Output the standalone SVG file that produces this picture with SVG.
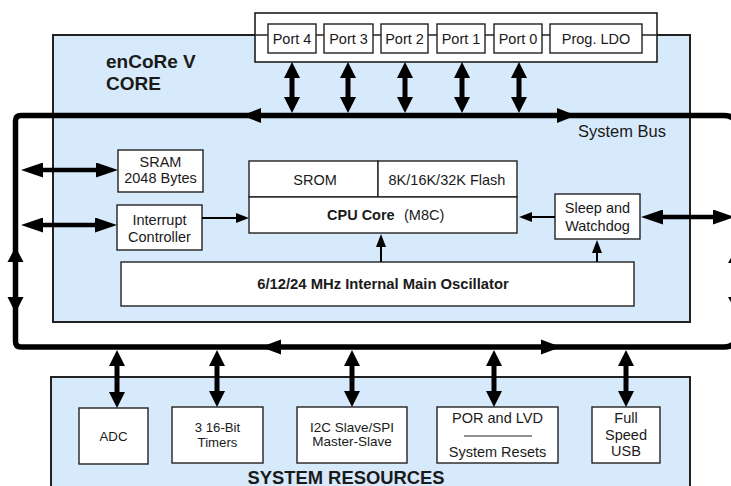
<svg xmlns="http://www.w3.org/2000/svg" width="731" height="486" viewBox="0 0 731 486">
<defs>
<style>
text{font-family:"Liberation Sans",Arial,sans-serif;fill:#1a1a1a}
.c{text-anchor:middle}
.t14{font-size:14.5px}
.t13{font-size:13.2px}
.b{font-weight:bold}
.box{fill:#fff;stroke:#222;stroke-width:1.4}
.area{fill:#d7eafc;stroke:#222;stroke-width:2}
.bus{fill:none;stroke:#000;stroke-width:5.5;stroke-linejoin:round}
.thick{stroke:#000;stroke-width:5}
.mid{stroke:#000;stroke-width:4.5}
.thin{stroke:#000;stroke-width:2}
</style>
<marker id="hv" markerUnits="userSpaceOnUse" markerWidth="16" markerHeight="16" viewBox="0 0 16 16" refX="1" refY="8" orient="auto-start-reverse"><path d="M0,0 L16,8 L0,16 z" fill="#000"/></marker>
<marker id="hh" markerUnits="userSpaceOnUse" markerWidth="22" markerHeight="15" viewBox="0 0 22 15" refX="1" refY="7.5" orient="auto-start-reverse"><path d="M0,0 L22,7.5 L0,15 z" fill="#000"/></marker>
<marker id="hs" markerUnits="userSpaceOnUse" markerWidth="13" markerHeight="10" viewBox="0 0 13 10" refX="1" refY="5" orient="auto"><path d="M0,0 L13,5 L0,10 z" fill="#000"/></marker>
</defs>
<rect width="731" height="486" fill="#fff"/>

<g id="core-area">
<rect class="area" x="53" y="35" width="637" height="287"/>
<text class="b" x="106" y="68" font-size="19">enCoRe V</text>
<text class="b" x="106" y="90" font-size="19">CORE</text>
</g>

<g id="sysres-area">
<rect class="area" x="51" y="377" width="639" height="120"/>
<text class="b c" x="346" y="483.5" font-size="18.4">SYSTEM RESOURCES</text>
</g>

<g id="ports">
<rect x="255" y="13" width="402" height="49" fill="#fff" stroke="#111" stroke-width="1.5"/>
<line x1="255" y1="35" x2="657" y2="35" stroke="#222" stroke-width="1.4"/>
<g id="port4"><rect class="box" x="268" y="24" width="48" height="29"/><text class="c t14" x="292" y="44">Port 4</text></g>
<g id="port3"><rect class="box" x="324" y="24" width="49" height="29"/><text class="c t14" x="348.5" y="44">Port 3</text></g>
<g id="port2"><rect class="box" x="381" y="24" width="47" height="29"/><text class="c t14" x="404.5" y="44">Port 2</text></g>
<g id="port1"><rect class="box" x="437" y="24" width="48" height="29"/><text class="c t14" x="461" y="44">Port 1</text></g>
<g id="port0"><rect class="box" x="494" y="24" width="48" height="29"/><text class="c t14" x="518" y="44">Port 0</text></g>
<g id="ldo"><rect class="box" x="550" y="24" width="92" height="29"/><text class="c t14" x="596" y="44">Prog. LDO</text></g>
</g>

<g id="sram"><rect class="box" x="118" y="150" width="85" height="42"/><text class="c t14" x="160.5" y="167">SRAM</text><text class="c t14" x="160.5" y="183">2048 Bytes</text></g>
<g id="interrupt"><rect class="box" x="117" y="205" width="85" height="45"/><text class="c t14" x="159.5" y="225">Interrupt</text><text class="c t14" x="159.5" y="242">Controller</text></g>
<g id="srom"><rect class="box" x="249" y="161" width="129" height="36"/><text class="c t14" x="315" y="185">SROM</text></g>
<g id="flash"><rect class="box" x="378" y="161" width="139" height="36"/><text class="c t14" x="447" y="185">8K/16K/32K Flash</text></g>
<g id="cpu"><rect class="box" x="249" y="197" width="268" height="36"/><text class="t14 b" x="327" y="220">CPU Core</text><text class="t14" x="404" y="220">(M8C)</text></g>
<g id="sleep"><rect class="box" x="555" y="194" width="85" height="45"/><text class="c t14" x="597.5" y="213">Sleep and</text><text class="c t14" x="597.5" y="231">Watchdog</text></g>
<g id="osc"><rect class="box" x="121" y="262" width="513" height="44"/><text class="c b" x="383" y="289" font-size="14.8">6/12/24 MHz Internal Main Oscillator</text></g>

<g id="adc"><rect class="box" x="79" y="408" width="69" height="56"/><text class="c t13" x="113.5" y="441">ADC</text></g>
<g id="timers"><rect class="box" x="172" y="407" width="91" height="56"/><text class="c t13" x="217.5" y="432">3 16-Bit</text><text class="c t13" x="217.5" y="447">Timers</text></g>
<g id="i2c"><rect class="box" x="297" y="407" width="110" height="56"/><text class="c" x="352" y="432" font-size="13.5">I2C Slave/SPI</text><text class="c" x="352" y="446" font-size="13.5">Master-Slave</text></g>
<g id="por"><rect class="box" x="437" y="407" width="121" height="56"/><text class="c t14" x="497.5" y="423">POR and LVD</text><line x1="464" y1="436" x2="532" y2="436" stroke="#222" stroke-width="1.2"/><text class="c t14" x="497.5" y="457">System Resets</text></g>
<g id="usb"><rect class="box" x="592" y="407" width="68" height="56"/><text class="c t14" x="626" y="423">Full</text><text class="c t14" x="626" y="440">Speed</text><text class="c t14" x="626" y="456">USB</text></g>

<g id="connectors">
<path class="bus" d="M21,115.5 H724 Q737,115.5 737,128.5 V334 Q737,347 724,347 H21 Q15.5,347 15.5,341.5 V121 Q15.5,115.5 21,115.5 Z"/>
<text x="578" y="137" font-size="16.5">System Bus</text>
<polygon points="242,115.5 261,108 261,123" fill="#000"/>
<polygon points="576,115.5 557,108 557,123" fill="#000"/>
<polygon points="261,347 281,339.5 281,354.5" fill="#000"/>
<polygon points="561,347 541,339.5 541,354.5" fill="#000"/>
<polygon points="15.5,247 7.5,262 23.5,262" fill="#000"/>
<polygon points="15.5,313 7.5,297 23.5,297" fill="#000"/>
<polygon points="737,248 728,263 746,263" fill="#000"/>
<polygon points="737,313 728,297 746,297" fill="#000"/>

<line class="thick" x1="292" y1="77" x2="292" y2="98" marker-start="url(#hv)" marker-end="url(#hv)"/>
<line class="thick" x1="348" y1="77" x2="348" y2="98" marker-start="url(#hv)" marker-end="url(#hv)"/>
<line class="thick" x1="405" y1="77" x2="405" y2="98" marker-start="url(#hv)" marker-end="url(#hv)"/>
<line class="thick" x1="462" y1="77" x2="462" y2="98" marker-start="url(#hv)" marker-end="url(#hv)"/>
<line class="thick" x1="519" y1="77" x2="519" y2="98" marker-start="url(#hv)" marker-end="url(#hv)"/>

<line class="mid" x1="42" y1="170" x2="97" y2="170" marker-start="url(#hh)" marker-end="url(#hh)"/>
<line class="mid" x1="42" y1="225" x2="96" y2="225" marker-start="url(#hh)" marker-end="url(#hh)"/>
<line class="mid" x1="662" y1="217" x2="714" y2="217" marker-start="url(#hh)" marker-end="url(#hh)"/>

<line class="thin" x1="202" y1="218" x2="237" y2="218" marker-end="url(#hs)"/>
<line class="thin" x1="555" y1="217" x2="531" y2="217" marker-end="url(#hs)"/>
<line class="thin" x1="381" y1="262" x2="381" y2="246" marker-end="url(#hs)"/>
<line class="thin" x1="597" y1="262" x2="597" y2="252" marker-end="url(#hs)"/>

<line class="thick" x1="117" y1="365" x2="117" y2="393" marker-start="url(#hv)" marker-end="url(#hv)"/>
<line class="thick" x1="217" y1="365" x2="217" y2="392" marker-start="url(#hv)" marker-end="url(#hv)"/>
<line class="thick" x1="352" y1="365" x2="352" y2="392" marker-start="url(#hv)" marker-end="url(#hv)"/>
<line class="thick" x1="494" y1="365" x2="494" y2="392" marker-start="url(#hv)" marker-end="url(#hv)"/>
<line class="thick" x1="626" y1="365" x2="626" y2="392" marker-start="url(#hv)" marker-end="url(#hv)"/>
</g>
</svg>
